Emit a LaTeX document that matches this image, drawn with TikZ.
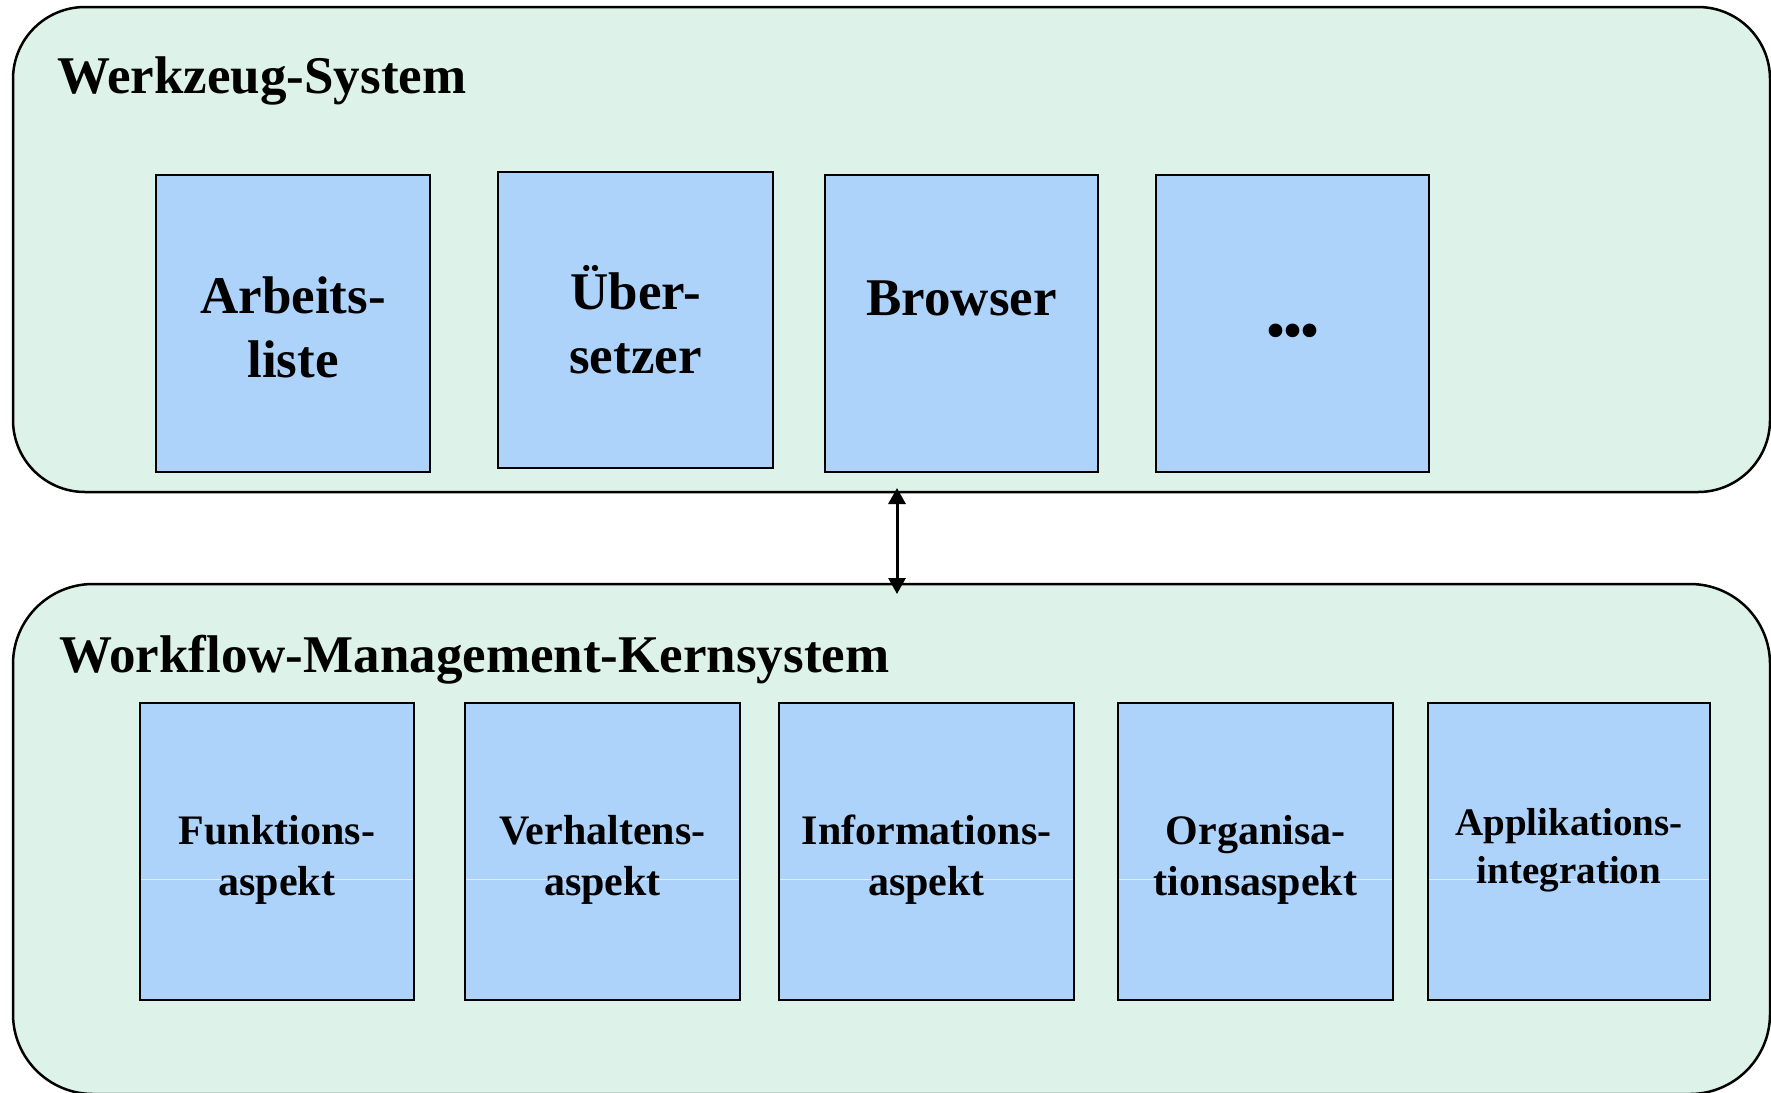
\documentclass[tikz,border=0pt]{standalone}
\usepackage{fontspec}
\setmainfont{Liberation Serif}[Ligatures=NoCommon]
\usetikzlibrary{arrows.meta,calc}
\definecolor{panelfill}{RGB}{221,242,232}
\definecolor{boxfill}{RGB}{174,211,251}
\definecolor{seam}{RGB}{218,238,255}
\begin{document}
\begin{tikzpicture}[x=1pt,y=-1pt,
  panel/.style={draw=black,line width=2.5pt,fill=panelfill,inner sep=0pt,outer sep=0pt},
  comp/.style={draw=black,line width=2.5pt,fill=boxfill,inner sep=0pt,outer sep=0pt,anchor=north west,minimum height=297pt},
  title/.style={font=\fontsize{53}{64}\selectfont\bfseries,anchor=base west,inner sep=0pt},
  biglbl/.style={font=\fontsize{53}{64}\selectfont\bfseries,align=center,anchor=base,inner sep=0pt},
  smalllbl/.style={font=\fontsize{42}{51}\selectfont\bfseries,align=center,anchor=base,inner sep=0pt},
  seamline/.style={draw=seam,line width=1pt,shorten <=1.3pt,shorten >=1.3pt},
  link/.style={line width=3pt,{Triangle[length=16pt,width=17pt]}-{Triangle[length=16pt,width=17pt]}}]
\useasboundingbox (0,0) rectangle (1771,1092);
\clip (0,0) rectangle (1771,1092);
\fill[white] (0,0) rectangle (1771,1092);

% the two layers
\node[panel,minimum width=1757pt,minimum height=485pt,rounded corners=72pt] (ws) at (891.5,249.5) {};
\node[panel,minimum width=1757pt,minimum height=510pt,rounded corners=80pt] (wf) at (891.5,839) {};

\node[title] (wstitle) at (57,93) {Werkzeug-System};
\node[title] (wftitle) at (59,672) {Workflow-Management-Kernsystem};

% tools
\node[comp,minimum width=274pt] (a1) at (156,175) {};
\node[comp,minimum width=275pt,minimum height=296pt] (a2) at (498,172) {};
\node[comp,minimum width=273pt] (a3) at (825,175) {};
\node[comp,minimum width=273pt] (a4) at (1156,175) {};

\node[biglbl] (a1t) at (293,377) {Arbeits-\\liste};
\node[biglbl] (a2t) at (635.5,373) {Über-\\setzer};
\node[biglbl] (a3t) at (961.5,315) {Browser};
\node[biglbl,font=\fontsize{84}{84}\selectfont\bfseries] (a4t) at (1292.5,336) {.\kern-4pt.\kern-4pt.};

% core aspects
\node[comp,minimum width=274pt] (b1) at (140,703) {};
\node[comp,minimum width=275pt] (b2) at (465,703) {};
\node[comp,minimum width=295pt] (b3) at (779,703) {};
\node[comp,minimum width=275pt] (b4) at (1118,703) {};
\node[comp,minimum width=282pt] (b5) at (1428,703) {};

\coordinate (seamy) at (0,879);
\foreach \b in {b1,b2,b3,b4,b5}
  \draw[seamline] (\b.west |- seamy) -- (\b.east |- seamy);

\node[smalllbl] (b1t) at (277,895) {Funktions-\\aspekt};
\node[smalllbl] (b2t) at (602.5,895) {Verhaltens-\\aspekt};
\node[smalllbl] (b3t) at (926.5,895) {Informations-\\aspekt};
\node[smalllbl] (b4t) at (1255.5,895) {Organisa-\\tionsaspekt};
\node[smalllbl,font=\fontsize{39}{48}\selectfont\bfseries] (b5t) at (1569,883) {Applikations-\\integration};

% interaction between the layers
\draw[link] ($(ws.south)+(5.5,-4)$) -- ($(wf.north)+(5.5,10)$);
\end{tikzpicture}
\end{document}
